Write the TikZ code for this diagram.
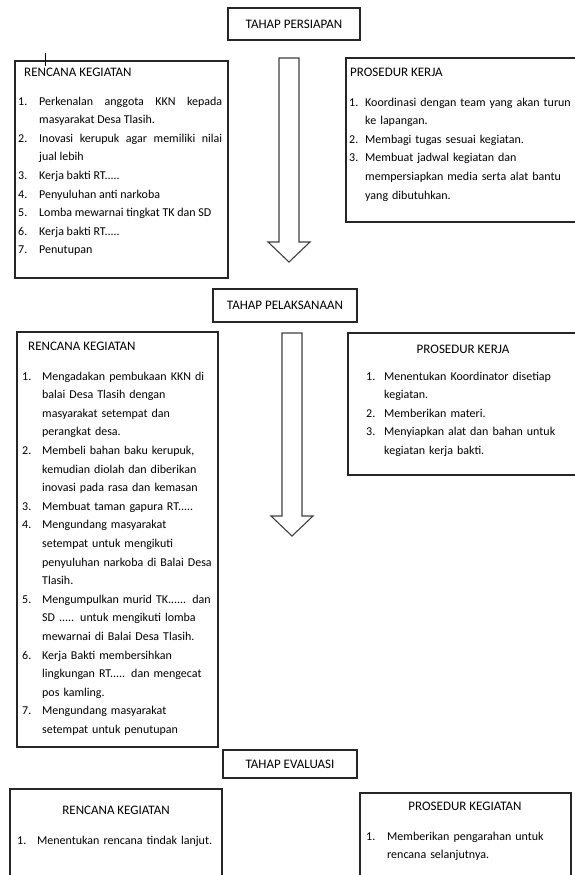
\documentclass[tikz,border=0pt]{standalone}
\usepackage{fontspec}
\setmainfont{Carlito}
\usetikzlibrary{calc}

\tikzset{
  bingkai/.style={draw=black!85, line width=1.2pt},
  tahap/.style={draw=black!85, line width=1.2pt, inner sep=0pt, font=\fontsize{13}{15}\selectfont},
  judul/.style={anchor=base west, inner sep=0pt, font=\fontsize{13}{15}\selectfont},
  daftar/.style={anchor=base west, inner sep=0pt, align=left, font=\fontsize{12}{18.6}\selectfont},
  panah/.style={draw=black!75, line width=1.1pt, line join=miter},
}
\newcommand{\poin}[3]{\noindent\hangindent=#1\hangafter=1\makebox[#1][l]{#2}#3\par}
\newcommand{\panahbesar}[2]{%
  \draw[panah] ($(#1)+(-10,0)$) -- ($(#1)+(10,0)$) -- ($(#2)+(10,-20)$) -- ($(#2)+(21,-20)$)
    -- (#2) -- ($(#2)+(-21,-20)$) -- ($(#2)+(-10,-20)$) -- cycle;}

\begin{document}
\begin{tikzpicture}[x=1pt, y=-1pt]
  \useasboundingbox (0,0) rectangle (575,875);
  \clip (0,0) rectangle (575,875);
  \fill[white] (0,0) rectangle (575,875);

  % tahap persiapan
  \node[tahap, minimum width=132pt, minimum height=32pt] (t1) at (294,24) {TAHAP PERSIAPAN};

  \draw[bingkai] (15,61) rectangle (228,278);
  \draw[line width=0.8pt] (45,53) -- (45,66);
  \node[judul] (rk1) at (24,76) {RENCANA KEGIATAN};
  \node[daftar, text width=204pt, align=justify] (drk1) at (18,105) {%
    \poin{21pt}{1.}{Perkenalan anggota KKN kepada\linebreak masyarakat Desa Tlasih.}
    \poin{21pt}{2.}{Inovasi kerupuk agar memiliki nilai\linebreak jual lebih}
    \poin{21pt}{3.}{Kerja bakti RT.....}
    \poin{21pt}{4.}{Penyuluhan anti narkoba}
    \poin{21pt}{5.}{Lomba mewarnai tingkat TK dan SD}
    \poin{21pt}{6.}{Kerja bakti RT.....}
    \poin{21pt}{7.}{Penutupan}};

  \draw[bingkai] (346,58) rectangle (590,222);
  \node[judul] (pk1) at (350,77) {PROSEDUR KERJA};
  \node[daftar, text width=235pt] (dpk1) at (349,106) {%
    \poin{16pt}{1.}{Koordinasi dengan team yang akan turun\newline ke lapangan.}
    \poin{16pt}{2.}{Membagi tugas sesuai kegiatan.}
    \poin{16pt}{3.}{Membuat jadwal kegiatan dan\newline mempersiapkan media serta alat bantu\newline yang dibutuhkan.}};

  \coordinate (a1) at (289,58);
  \coordinate (b1) at (289,262);
  \panahbesar{a1}{b1}

  % tahap pelaksanaan
  \node[tahap, minimum width=144pt, minimum height=33pt] (t2) at (285,305.5) {TAHAP PELAKSANAAN};

  \draw[bingkai] (17,332) rectangle (218,747);
  \node[judul] (rk2) at (28,350) {RENCANA KEGIATAN};
  \node[daftar, text width=196pt] (drk2) at (22,380) {%
    \poin{20pt}{1.}{Mengadakan pembukaan KKN di\newline balai Desa Tlasih dengan\newline masyarakat setempat dan\newline perangkat desa.}
    \poin{20pt}{2.}{Membeli bahan baku kerupuk,\newline kemudian diolah dan diberikan\newline inovasi pada rasa dan kemasan}
    \poin{20pt}{3.}{Membuat taman gapura RT.....}
    \poin{20pt}{4.}{Mengundang masyarakat\newline setempat untuk mengikuti\newline penyuluhan narkoba di Balai Desa\newline Tlasih.}
    \poin{20pt}{5.}{Mengumpulkan murid TK...... dan\newline SD ..... untuk mengikuti lomba\newline mewarnai di Balai Desa Tlasih.}
    \poin{20pt}{6.}{Kerja Bakti membersihkan\newline lingkungan RT..... dan mengecat\newline pos kamling.}
    \poin{20pt}{7.}{Mengundang masyarakat\newline setempat untuk penutupan}};

  \draw[bingkai] (348,333) rectangle (590,475);
  \node[judul, anchor=base] (pk2) at (463,353) {PROSEDUR KERJA};
  \node[daftar, text width=200pt] (dpk2) at (366,380) {%
    \poin{18pt}{1.}{Menentukan Koordinator disetiap\newline kegiatan.}
    \poin{18pt}{2.}{Memberikan materi.}
    \poin{18pt}{3.}{Menyiapkan alat dan bahan untuk\newline kegiatan kerja bakti.}};

  \coordinate (a2) at (292,333);
  \coordinate (b2) at (292,536);
  \panahbesar{a2}{b2}

  % tahap evaluasi
  \node[tahap, minimum width=134pt, minimum height=28pt] (t3) at (290,764) {TAHAP EVALUASI};

  \draw[bingkai] (10,789) rectangle (222,900);
  \node[judul, anchor=base] (rk3) at (116,814) {RENCANA KEGIATAN};
  \node[daftar, text width=200pt] (drk3) at (17,844) {%
    \poin{20pt}{1.}{Menentukan rencana tindak lanjut.}};

  \draw[bingkai] (360,793) rectangle (571,900);
  \node[judul, anchor=base] (pk3) at (465,810) {PROSEDUR KEGIATAN};
  \node[daftar, text width=200pt] (dpk3) at (366,840) {%
    \poin{21pt}{1.}{Memberikan pengarahan untuk\newline rencana selanjutnya.}};
\end{tikzpicture}
\end{document}
